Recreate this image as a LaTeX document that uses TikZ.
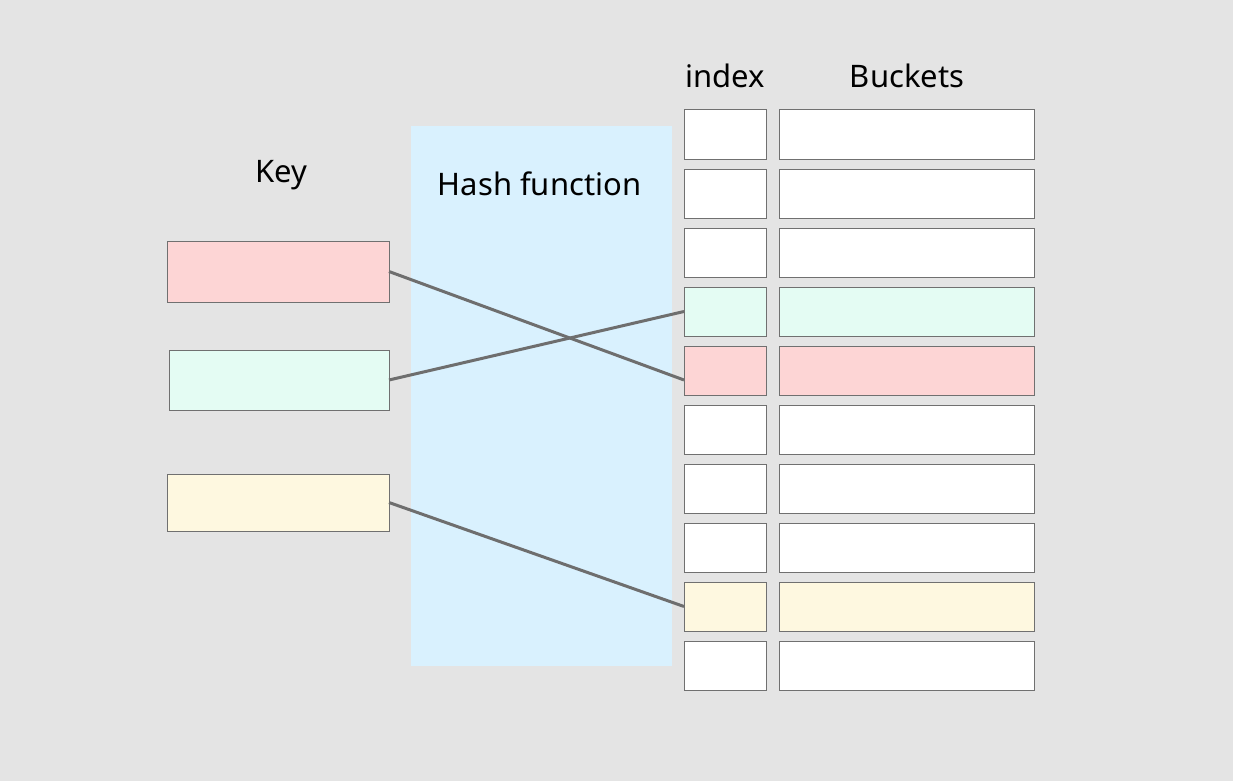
\documentclass[tikz,border=0pt]{standalone}
\usepackage{fontspec}
\setmainfont{Noto Sans}
\definecolor{bgc}{HTML}{E4E4E4}
\definecolor{hashc}{HTML}{D9F1FE}
\definecolor{redc}{HTML}{FDD5D5}
\definecolor{greenc}{HTML}{E4FCF3}
\definecolor{yellowc}{HTML}{FEF8E0}
\definecolor{edgec}{HTML}{707070}
\definecolor{linec}{HTML}{6E6E6E}
\begin{document}
\begin{tikzpicture}[x=1pt,y=-1pt,
  cell/.style={draw=edgec,line width=1pt,rectangle,inner sep=0pt,outer sep=0pt},
  idxcell/.style={cell,minimum width=82pt,minimum height=49pt},
  bktcell/.style={cell,minimum width=255pt,minimum height=49pt},
  lbl/.style={font=\fontsize{31}{36}\selectfont,anchor=base,inner sep=0pt},
  link/.style={draw=linec,line width=3pt}]
\fill[bgc] (0,0) rectangle (1233,781);
\useasboundingbox (0,0) rectangle (1233,781);
\node[fill=hashc,minimum width=261pt,minimum height=539.5pt,inner sep=0pt,outer sep=0pt] (hash) at (541.5,395.75) {};
% labels
\node[lbl] (tkey) at (281,182) {Key};
\node[lbl] (thash) at (539.5,195) {Hash function};
\node[lbl] (tidx) at (725,87.5) {index};
\node[lbl] (tbkt) at (907,87.5) {Buckets};
% key boxes
\node[cell,fill=redc,minimum width=222pt,minimum height=61pt] (kred) at (278,271.5) {};
\node[cell,fill=greenc,minimum width=220pt,minimum height=60pt] (kgreen) at (279,380) {};
\node[cell,fill=yellowc,minimum width=222pt,minimum height=57pt] (kyellow) at (278,502.5) {};
% index and buckets
\foreach \i/\c in {1/white,2/white,3/white,4/greenc,5/redc,6/white,7/white,8/white,9/yellowc,10/white}{
  \pgfmathsetmacro{\yc}{134.5+59*(\i-1)}
  \node[idxcell,fill=\c] (idx\i) at (725,\yc) {};
  \node[bktcell,fill=\c] (bkt\i) at (906.5,\yc) {};
}
\draw[link] (kred.east) -- ([yshift=-9.5pt]idx5.west);
\draw[link] (kgreen.east) -- (idx4.west);
\draw[link] (kyellow.east) -- (idx9.west);
\end{tikzpicture}
\end{document}
